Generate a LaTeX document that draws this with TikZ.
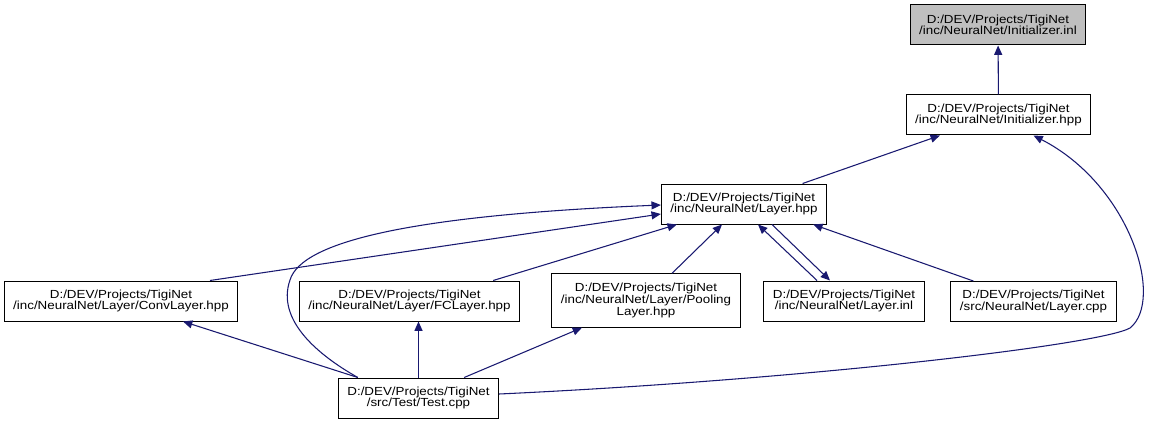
\documentclass[tikz,border=0pt]{standalone}
\usepackage{fontspec}
\setmainfont{Liberation Sans}[FakeStretch=1.14]
\usetikzlibrary{arrows.meta,calc}
\definecolor{incblue}{HTML}{191970}
\definecolor{curgray}{HTML}{BFBFBF}
\begin{document}
\begin{tikzpicture}[x=0.75pt,y=-0.75pt,
  file/.style={draw,fill=white,line width=0.75pt,align=center,inner xsep=6.8pt,inner ysep=4pt,minimum height=30pt,font=\fontsize{8.8pt}{8.7pt}\selectfont},
  inc/.style={-{Triangle[length=7pt,width=6pt]},color=incblue,line width=0.8pt}]
\useasboundingbox (0,0) rectangle (1152,424);
% files
\node[file,fill=curgray] (inl) at (998,25) {D:/DEV/Projects/TigiNet\\/inc/NeuralNet/Initializer.inl};
\node[file] (inithpp) at (998.5,115) {D:/DEV/Projects/TigiNet\\/inc/NeuralNet/Initializer.hpp};
\node[file] (layerhpp) at (744,204) {D:/DEV/Projects/TigiNet\\/inc/NeuralNet/Layer.hpp};
\node[file] (conv) at (121,301) {D:/DEV/Projects/TigiNet\\/inc/NeuralNet/Layer/ConvLayer.hpp};
\node[file] (fc) at (409.5,301) {D:/DEV/Projects/TigiNet\\/inc/NeuralNet/Layer/FCLayer.hpp};
\node[file,minimum height=40pt] (pool) at (646,300.5) {D:/DEV/Projects/TigiNet\\/inc/NeuralNet/Layer/Pooling\\Layer.hpp};
\node[file] (layerinl) at (844,301) {D:/DEV/Projects/TigiNet\\/inc/NeuralNet/Layer.inl};
\node[file] (layercpp) at (1033.5,301.5) {D:/DEV/Projects/TigiNet\\/src/NeuralNet/Layer.cpp};
\node[file] (test) at (418.5,398) {D:/DEV/Projects/TigiNet\\/src/Test/Test.cpp};
% includes
\draw[inc] (inithpp) -- (inl);
\draw[inc] (layerhpp) -- (inithpp);
\draw[inc] ($(test.east)+(0,-4)$) .. controls (800,380) and (1100,345) .. (1130,328)
  .. controls (1165,300) and (1130,185) .. ($(inithpp.south)+(35,0)$);
\draw[inc] ($(conv.north)+(89,0)$) -- ($(layerhpp.west)+(0,10)$);
\draw[inc] ($(test.north west)+(20,0)$) .. controls (318,355) and (276,320) .. (290,280)
  .. controls (302,240) and (420,215) .. ($(layerhpp.west)+(0,1)$);
\draw[inc] ($(fc.north east)+(-27,0)$) -- ($(layerhpp.south west)+(16,0)$);
\draw[inc] ($(pool.north)+(26,0)$) -- ($(layerhpp.south)+(-22,0)$);
\draw[inc] ($(layerinl.north)+(-27,0)$) -- ($(layerhpp.south)+(14,0)$);
\draw[inc] ($(layerhpp.south)+(28,0)$) -- ($(layerinl.north)+(-14,0)$);
\draw[inc] ($(layercpp.north west)+(23,0)$) -- ($(layerhpp.south east)+(-14,0)$);
\draw[inc] ($(test.north west)+(20,0)$) -- ($(conv.south)+(62,0)$);
\draw[inc] (test.north) -- (test.north |- fc.south);
\draw[inc] ($(test.north east)+(-35,0)$) -- ($(pool.south)+(-64,0)$);
\end{tikzpicture}
\end{document}
